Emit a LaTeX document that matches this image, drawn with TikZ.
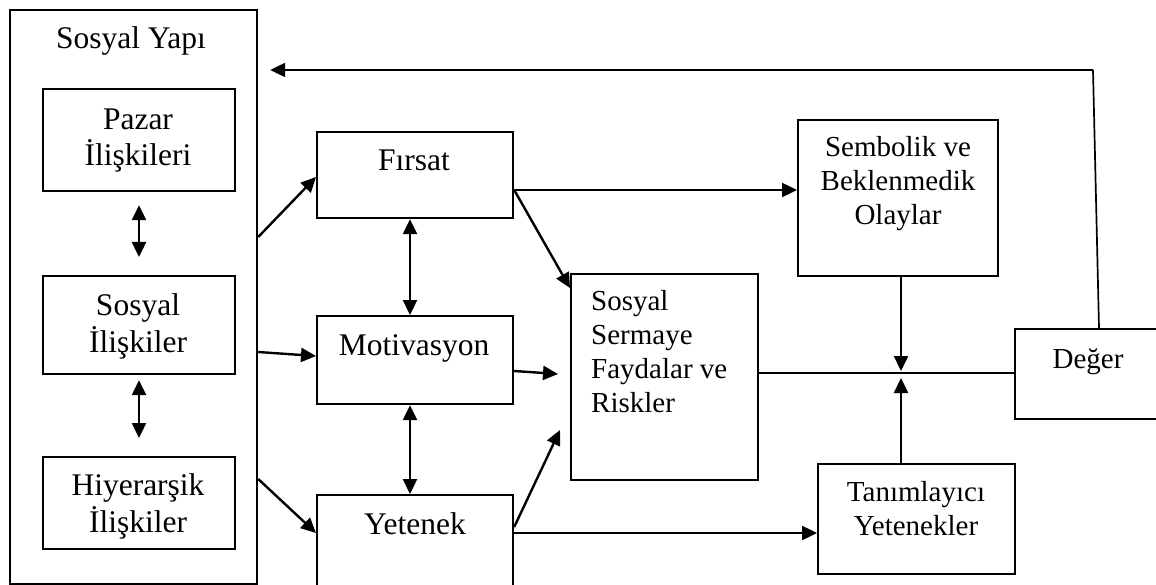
\documentclass[tikz,border=0pt]{standalone}
\usepackage{fontspec}
\setmainfont{Liberation Serif}
\usetikzlibrary{arrows.meta,calc}
\tikzset{
  box/.style={draw, line width=2.2pt, anchor=north west, inner sep=0pt},
  bigt/.style={font=\fontsize{31.5}{36.5}\selectfont, align=center, inner sep=0pt, anchor=base},
  smallt/.style={font=\fontsize{29}{34}\selectfont, align=center, inner sep=0pt, anchor=base},
  arr/.style={line width=2.4pt, -{Triangle[length=15pt,width=14pt]}},
  darr/.style={line width=2.4pt, {Triangle[length=15pt,width=14pt]}-{Triangle[length=15pt,width=14pt]}},
  thin/.style={line width=1.7pt}
}
\begin{document}
\begin{tikzpicture}[x=1pt,y=-1pt]
\useasboundingbox (0,0) rectangle (1156,585);
\fill[white] (0,0) rectangle (1156,585);
\clip (0,0) rectangle (1156,585);
% boxes
\node[box, minimum width=247pt, minimum height=574pt] (outer) at (9,9) {};
\node[box, minimum width=192pt, minimum height=102pt] (pazar) at (42,88) {};
\node[box, minimum width=192pt, minimum height=98pt] (sosyal) at (42,275) {};
\node[box, minimum width=192pt, minimum height=92pt] (hiyer) at (42,456) {};
\node[box, minimum width=196pt, minimum height=86pt] (firsat) at (316,131) {};
\node[box, minimum width=196pt, minimum height=88pt] (motiv) at (316,315) {};
\node[box, minimum width=196pt, minimum height=110pt] (yetenek) at (316,494) {};
\node[box, minimum width=187pt, minimum height=206pt] (ss) at (570,273) {};
\node[box, minimum width=200pt, minimum height=156pt] (semb) at (797,119) {};
\node[box, minimum width=197pt, minimum height=110pt] (tanim) at (817,463) {};
\node[box, minimum width=160pt, minimum height=90pt] (deger) at (1014,328) {};
% texts (anchor base = baseline of the last line)
\node[bigt] (tyapi) at (131,49) {Sosyal Yapı};
\node[bigt] (tpazar) at (138,166) {Pazar\\İlişkileri};
\node[bigt] (tsosyal) at (138,352) {Sosyal\\İlişkiler};
\node[bigt] (thiyer) at (138,532) {Hiyerarşik\\İlişkiler};
\node[bigt] (tfirsat) at (414,171) {Fırsat};
\node[bigt] (tmotiv) at (414,355) {Motivasyon};
\node[bigt] (tyet) at (415,534) {Yetenek};
\node[smallt, align=left, anchor=base west] (tss) at (591,412) {Sosyal\\Sermaye\\Faydalar ve\\Riskler};
\node[smallt] (tsemb) at (898,225) {Sembolik ve\\Beklenmedik\\Olaylar};
\node[smallt] (tdeger) at (1088,368) {Değer};
\node[smallt] (ttanim) at (916,535) {Tanımlayıcı\\Yetenekler};
% connectors
\coordinate (j) at (901,373);
\coordinate (tr) at (1093,70);
\draw[arr] (outer.east |- {(0,237)}) -- (firsat.west |- {(0,177)});
\draw[arr] (outer.east |- {(0,352)}) -- (motiv.west |- {(0,356)});
\draw[arr] (outer.east |- {(0,479)}) -- (yetenek.west |- {(0,533)});
\draw[darr] ($(pazar.south -| {(139,0)})+(0,13)$) -- ($(sosyal.north -| {(139,0)})+(0,-18)$);
\draw[darr] ($(sosyal.south -| {(139,0)})+(0,5)$) -- ($(hiyer.north -| {(139,0)})+(0,-18)$);
\draw[darr] (firsat.south -| {(410,0)}) -- (motiv.north -| {(410,0)});
\draw[darr] (motiv.south -| {(410,0)}) -- (yetenek.north -| {(410,0)});
\draw[arr] (firsat.east |- {(0,190)}) -- (semb.west |- {(0,190)});
\draw[arr] (firsat.east |- {(0,190)}) -- (ss.west |- {(0,288)});
\draw[arr] (motiv.east |- {(0,371)}) -- ($(ss.west |- {(0,374)})+(-12,0)$);
\draw[arr] (yetenek.east |- {(0,527)}) -- ($(ss.west |- {(0,430)})+(-10,0)$);
\draw[arr] (yetenek.east |- {(0,533)}) -- (tanim.west |- {(0,533)});
\draw[thin] (ss.east |- j) -- (deger.west |- j);
\draw[arr] (semb.south -| j) -- ($(j)+(0,-2)$);
\draw[arr] (tanim.north -| j) -- ($(j)+(0,5)$);
\draw[thin] (deger.north -| {(1099,0)}) -- (tr);
\draw[arr, line width=2.2pt] (tr) -- ($(outer.east |- tr)+(12,0)$);
\end{tikzpicture}
\end{document}
